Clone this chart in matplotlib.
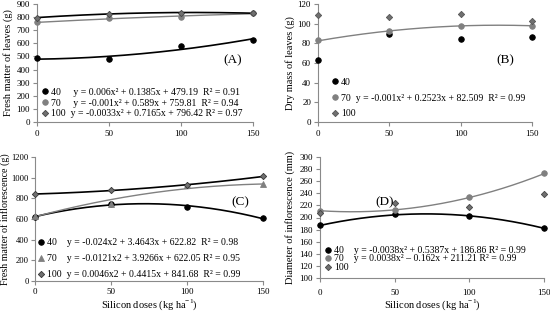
import matplotlib
matplotlib.use("Agg")
import matplotlib.pyplot as plt
import numpy as np
from matplotlib.lines import Line2D

plt.rcParams['font.family'] = ['Liberation Serif', 'DejaVu Serif']
plt.rcParams['font.size'] = 7
plt.rcParams['mathtext.fontset'] = 'custom'
plt.rcParams['mathtext.rm'] = 'Liberation Serif'

doses = [0, 50, 100, 150]

# Panel A: fresh matter of leaves
a40 = [485, 478, 578, 628]
a70 = [760, 790, 800, 830]
a100 = [795, 825, 830, 830]
a_fit40 = [0.006, 0.1385, 479.19]
a_fit70 = [-0.001, 0.589, 759.81]
a_fit100 = [-0.0033, 0.7165, 796.42]

# Panel B: dry mass of leaves
b40 = [63, 89, 84, 86]
b70 = [83, 93, 98, 98]
b100 = [109, 107, 110, 103]
b_fit70 = [-0.001, 0.2523, 82.509]

# Panel C: fresh matter of inflorescence
c40 = [620, 745, 720, 605]
c70 = [625, 745, 925, 935]
c100 = [840, 878, 930, 1015]
c_fit40 = [-0.024, 3.4643, 622.82]
c_fit70 = [-0.0121, 3.9266, 622.05]
c_fit100 = [0.0046, 0.4415, 841.68]

# Panel D: diameter of inflorescence
d40 = [187, 205, 202, 182]
d70 = [211, 212, 234, 273]
d100 = [208, 224, 217, 239]
d_fit40 = [-0.0038, 0.5387, 186.86]
d_fit70 = [0.0038, -0.162, 211.21]

BLACK = '#000000'
GRAY = '#808080'
DGRAY = '#707070'
EQ_FS = 7
TICK_FS = 6.5
LAB_FS = 7.5

W, H = 550, 311
fig = plt.figure(figsize=(5.5, 3.11), dpi=100)

def px_axes(l, r, t, b):
    ax = fig.add_axes([l / W, (H - b) / H, (r - l) / W, (b - t) / H])
    ax._px = (l, r, t, b)
    return ax

axA = px_axes(37, 253, 4, 122)
axB = px_axes(318, 532, 4, 122)
axC = px_axes(35, 263, 157, 281)
axD = px_axes(320, 544, 157, 278)

xs = np.linspace(0, 150, 200)

def style(ax, ylim, yticks, xpad=3):
    ax.set_xlim(0, 150)
    ax.set_ylim(*ylim)
    ax.set_xticks(doses)
    ax.set_yticks(yticks)
    for s in ['top', 'right']:
        ax.spines[s].set_visible(False)
    for s in ['left', 'bottom']:
        ax.spines[s].set_color('#8a8a8a')
        ax.spines[s].set_linewidth(0.8)
    ax.tick_params(axis='both', direction='out', length=3, width=0.8,
                   color='#8a8a8a', labelsize=TICK_FS, pad=2)
    ax.tick_params(axis='x', pad=xpad)

def ylabel(ax, text, right_px, fs=LAB_FS):
    l, r, t, b = ax._px
    ax.set_ylabel(text, fontsize=fs)
    ax.yaxis.set_label_coords((right_px - l) / (r - l), 0.5)

def xlabel(ax, text, top_px):
    l, r, t, b = ax._px
    ax.set_xlabel(text, fontsize=LAB_FS)
    ax.xaxis.set_label_coords(0.5, (b - top_px) / (b - t))

def fit(ax, coef, color, lw):
    ax.plot(xs, np.polyval(coef, xs), color=color, lw=lw, zorder=2)

def pts(ax, y, marker, color, ms, ec=None):
    ax.plot(doses, y, linestyle='none', marker=marker, color=color, ms=ms,
            mec=ec if ec else color, mew=0.6, zorder=3, clip_on=False)

def handles(markers):
    return [Line2D([], [], ls='none', marker=m, color=c, mec=e, mew=0.6, ms=s)
            for m, c, e, s in markers]

def legend(ax, h, labels, x, y, spacing):
    ax.legend(h, labels, loc='lower left', bbox_to_anchor=(x, y), frameon=False,
              fontsize=EQ_FS, handlelength=0.6, handletextpad=0.3,
              labelspacing=spacing, borderaxespad=0.0, borderpad=0.0)

CIRC_K = ('o', BLACK, BLACK, 4)
CIRC_G = ('o', GRAY, GRAY, 4)
TRI_G = ('^', GRAY, GRAY, 4)

# ---- A
fit(axA, a_fit40, BLACK, 1.2)
fit(axA, a_fit70, GRAY, 1.0)
fit(axA, a_fit100, BLACK, 1.2)
pts(axA, a40, 'o', BLACK, 4)
pts(axA, a70, 'o', GRAY, 4)
pts(axA, a100, 'D', DGRAY, 3.2, '#444444')
style(axA, (0, 900), range(0, 901, 100))
ylabel(axA, 'Fresh matter of leaves (g)', 13)
axA.text(0.907, 0.525, '(A)', transform=axA.transAxes, fontsize=9.5,
         ha='center', va='center')
legend(axA, handles([CIRC_K, CIRC_G, ('D', DGRAY, '#444444', 3.2)]),
       ['40     y = 0.006x² + 0.1385x + 479.19  R² = 0.91',
        '70     y = -0.001x² + 0.589x + 759.81  R² = 0.94',
        '100  y = -0.0033x² + 0.7165x + 796.42 R² = 0.97'],
       0.024, 0.03, 0.2)

# ---- B
fit(axB, b_fit70, GRAY, 1.0)
pts(axB, b40, 'o', BLACK, 4)
pts(axB, b70, 'o', GRAY, 4)
pts(axB, b100, 'D', DGRAY, 3.2, '#555555')
style(axB, (0, 120), range(0, 121, 20))
ylabel(axB, 'Dry mass of leaves (g)', 295)
axB.text(0.874, 0.525, '(B)', transform=axB.transAxes, fontsize=9.5,
         ha='center', va='center')
legend(axB, handles([CIRC_K, CIRC_G, ('D', DGRAY, '#555555', 3.2)]),
       ['40',
        '70  y = -0.001x² + 0.2523x + 82.509  R² = 0.99',
        '100'],
       0.066, 0.03, 0.7)

# ---- C
fit(axC, c_fit40, BLACK, 1.2)
fit(axC, c_fit70, GRAY, 1.0)
fit(axC, c_fit100, BLACK, 1.2)
pts(axC, c40, 'o', BLACK, 4)
pts(axC, c70, '^', GRAY, 4)
pts(axC, c100, 'D', DGRAY, 3.2, '#333333')
style(axC, (0, 1200), range(0, 1201, 200), xpad=2)
axC.tick_params(axis='y', labelsize=6.2, pad=1.5)
ylabel(axC, 'Fresh matter of inflorescence (g)', 10.5, fs=7.2)
xlabel(axC, 'Silicon doses (kg ha$^{-1}$)', 297)
axC.text(0.9, 0.637, '(C)', transform=axC.transAxes, fontsize=9.5,
         ha='center', va='center')
legend(axC, handles([CIRC_K, TRI_G, ('D', DGRAY, '#333333', 3.2)]),
       ['40    y = -0.024x2 + 3.4643x + 622.82  R² = 0.98',
        '70    y = -0.0121x2 + 3.9266x + 622.05 R² = 0.95',
        '100  y = 0.0046x2 + 0.4415x + 841.68  R² = 0.99'],
       0.0136, 0.016, 0.7)

# ---- D
fit(axD, d_fit40, BLACK, 1.2)
fit(axD, d_fit70, GRAY, 1.0)
pts(axD, d40, 'o', BLACK, 4)
pts(axD, d70, 'o', GRAY, 4)
pts(axD, d100, 'D', DGRAY, 3.2, '#444444')
style(axD, (100, 300), range(100, 301, 20), xpad=5)
ylabel(axD, 'Diameter of inflorescence (mm)', 295)
xlabel(axD, 'Silicon doses (kg ha$^{-1}$)', 297)
axD.text(0.29, 0.628, '(D)', transform=axD.transAxes, fontsize=9.5,
         ha='center', va='center')
legend(axD, handles([CIRC_K, CIRC_G, ('D', DGRAY, '#444444', 3.2)]),
       ['40    y = -0.0038x² + 0.5387x + 186.86 R² = 0.99',
        '70    y = 0.0038x² \u2013 0.162x + 211.21 R² = 0.99',
        '100'],
       0.023, 0.05, -0.05)

fig.savefig('out.png', dpi=100)
